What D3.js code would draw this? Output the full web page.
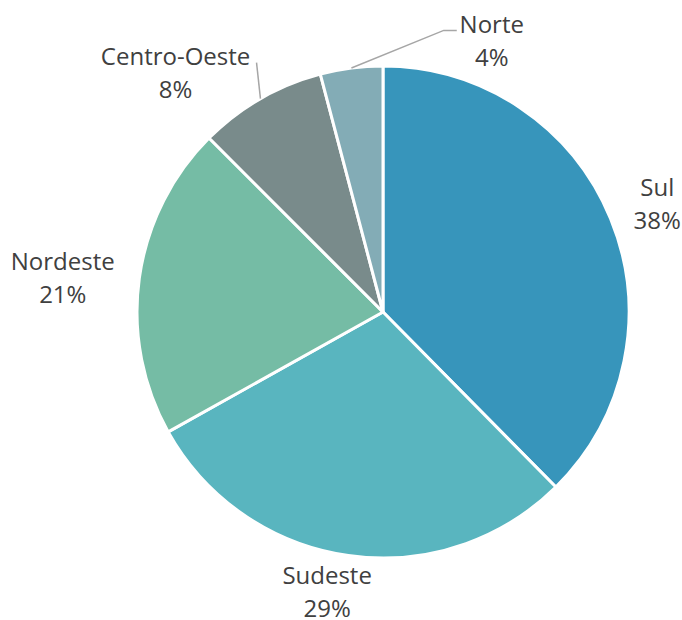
<!DOCTYPE html>
<html>
<head>
<meta charset="utf-8">
<script src="https://cdn.jsdelivr.net/npm/d3@7"></script>
<style>
    body { margin: 0; background: #fff; }
    .label { font-family: "Open Sans", sans-serif; font-size: 24px; fill: #404040; }
    .leader { fill: none; stroke: #a6a6a6; stroke-width: 1.5; }
</style>
</head>
<body>
<svg id="chart" width="682" height="620"></svg>
<script>
// Regions and their share (%), labels show the rounded value
const regions = ["Sul", "Sudeste", "Nordeste", "Centro-Oeste", "Norte"];
const shares = [37.6, 29.3, 20.6, 8.4, 4.1];
const colors = ["#3795bb", "#59b5bf", "#75bca5", "#798b8b", "#83acb6"];

const width = 682, height = 620;
const cx = 383, cy = 312, radius = 246;
const labelRadius = 290;

// nudges so the labels sit where the original tool placed them
const labelNudge = {
    "Sul": [6, 0],
    "Sudeste": [-15, -9],
    "Nordeste": [-33, 4],
    "Centro-Oeste": [-63, 10],
    "Norte": [146, 15]
};

const svg = d3.select("#chart");
const g = svg.append("g").attr("transform", `translate(${cx},${cy})`);

const data = regions.map((r, i) => ({ region: r, value: shares[i], color: colors[i] }));

const pie = d3.pie().sort(null).value(d => d.value);
const arc = d3.arc().innerRadius(0).outerRadius(radius);
const arcs = pie(data);

g.selectAll(".slice")
    .data(arcs)
    .enter().append("path")
    .attr("class", "slice")
    .attr("d", arc)
    .attr("fill", d => d.data.color)
    .attr("stroke", "#fff")
    .attr("stroke-width", 3)
    .attr("stroke-linejoin", "round");

function polar(angle, r) {
    return [Math.sin(angle) * r, -Math.cos(angle) * r];
}

// label centres
arcs.forEach(d => {
    const mid = (d.startAngle + d.endAngle) / 2;
    const p = polar(mid, labelRadius);
    const n = labelNudge[d.data.region];
    d.lx = p[0] + n[0];
    d.ly = p[1] + n[1];
    d.edge = polar(mid, radius);
});

const labels = g.selectAll(".label")
    .data(arcs)
    .enter().append("text")
    .attr("class", "label")
    .attr("text-anchor", "middle");

labels.append("tspan")
    .attr("x", d => d.lx)
    .attr("y", d => d.ly - 6)
    .text(d => d.data.region);

labels.append("tspan")
    .attr("x", d => d.lx)
    .attr("y", d => d.ly + 27)
    .text(d => Math.round(d.data.value) + "%");

// leader lines for the two thin slices
const leaders = arcs.filter(d => d.data.region === "Centro-Oeste" || d.data.region === "Norte");
g.selectAll(".leader")
    .data(leaders)
    .enter().append("path")
    .attr("class", "leader")
    .attr("d", d => {
        const line = d3.line();
        if (d.data.region === "Norte") {
            return line([d.edge, [d.lx - 48, d.ly - 9], [d.lx - 35, d.ly - 9]]);
        }
        return line([d.edge, [d.lx + 81, d.ly - 8]]);
    });
</script>
</body>
</html>
